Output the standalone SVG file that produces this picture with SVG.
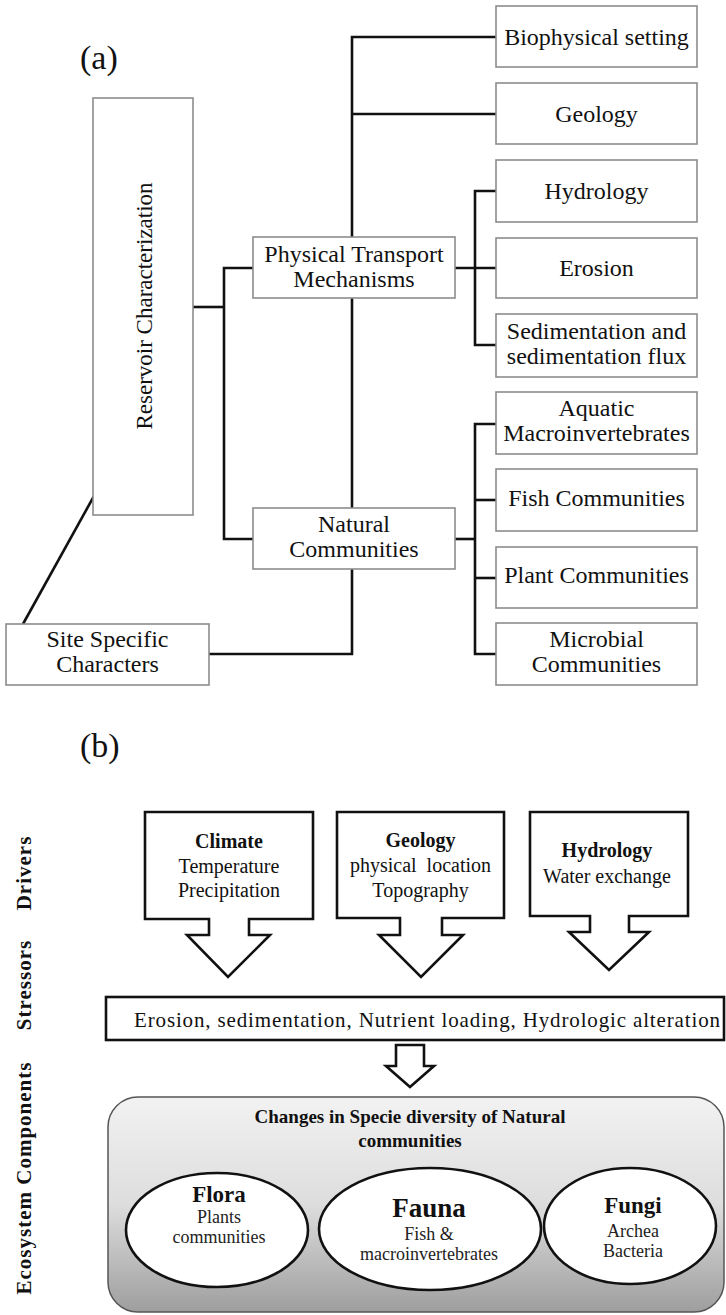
<svg xmlns="http://www.w3.org/2000/svg" width="726" height="1315" viewBox="0 0 726 1315" font-family="'Liberation Serif', 'Times New Roman', serif">
  <defs>
    <linearGradient id="compFill" x1="0" y1="0" x2="0" y2="1">
      <stop offset="0" stop-color="#f2f2f2"/>
      <stop offset="0.5" stop-color="#dddddd"/>
      <stop offset="1" stop-color="#9e9e9e"/>
    </linearGradient>
    <style>
      text { font-family: "Liberation Serif", "Times New Roman", serif; fill: #111; }
      .box { fill: #fff; stroke: #8c8c8c; stroke-width: 1.6; }
      .lbl { font-size: 24px; text-anchor: middle; }
      .lbl2 { font-size: 23px; text-anchor: middle; }
      .panel { font-size: 34px; }
      .wire { fill: none; stroke: #111; stroke-width: 2.6; }
      .arrow { fill: #fff; stroke: #111; stroke-width: 2.6; stroke-linejoin: miter; }
      .drv { font-size: 20px; text-anchor: middle; }
      .drvb { font-size: 20px; font-weight: bold; text-anchor: middle; }
      .row { font-size: 21px; font-weight: bold; text-anchor: middle; letter-spacing: 1px; }
      .oval { fill: #fff; stroke: #111; stroke-width: 2.6; }
      .sub { font-size: 18px; text-anchor: middle; fill: #222; }
      .head { font-weight: bold; text-anchor: middle; }
    </style>
  </defs>

  <!-- ============ (a) characterization tree ============ -->
  <text class="panel" x="80" y="69">(a)</text>

  <g id="connectors-a">
    <!-- reservoir to the two main branches -->
    <polyline class="wire" points="193,307 224,307"/>
    <polyline class="wire" points="253,268 224,268 224,539 253,539"/>
    <!-- central spine -->
    <polyline class="wire" points="496,37 352,37 352,237"/>
    <polyline class="wire" points="352,114 496,114"/>
    <polyline class="wire" points="352,298 352,508"/>
    <polyline class="wire" points="352,569 352,654 209,654"/>
    <!-- physical transport branch -->
    <polyline class="wire" points="455,268 496,268"/>
    <polyline class="wire" points="496,191 475,191 475,345 496,345"/>
    <!-- natural communities branch -->
    <polyline class="wire" points="455,539 475,539"/>
    <polyline class="wire" points="496,424 475,424 475,654 496,654"/>
    <polyline class="wire" points="475,500 496,500"/>
    <polyline class="wire" points="475,578 496,578"/>
    <!-- site specific link -->
    <line class="wire" x1="94" y1="496" x2="23" y2="624"/>
  </g>

  <g id="reservoir">
    <rect class="box" x="93" y="98" width="100" height="417"/>
    <text class="lbl2" transform="translate(152,306) rotate(-90)">Reservoir Characterization</text>
  </g>

  <g id="site-specific">
    <rect class="box" x="6" y="624" width="203" height="61"/>
    <text class="lbl" x="107.5" y="647">Site Specific</text>
    <text class="lbl" x="107.5" y="672">Characters</text>
  </g>

  <g id="physical-transport">
    <rect class="box" x="253" y="237" width="202" height="61"/>
    <text class="lbl" x="354" y="262">Physical Transport</text>
    <text class="lbl" x="354" y="287">Mechanisms</text>
  </g>

  <g id="natural-communities">
    <rect class="box" x="253" y="508" width="202" height="61"/>
    <text class="lbl" x="354" y="532">Natural</text>
    <text class="lbl" x="354" y="557">Communities</text>
  </g>

  <g id="biophysical">
    <rect class="box" x="496" y="6" width="201" height="61"/>
    <text class="lbl" x="596.5" y="45">Biophysical setting</text>
  </g>
  <g id="geology-a">
    <rect class="box" x="496" y="83" width="201" height="61"/>
    <text class="lbl" x="596.5" y="122">Geology</text>
  </g>
  <g id="hydrology-a">
    <rect class="box" x="496" y="160" width="201" height="62"/>
    <text class="lbl" x="596.5" y="199">Hydrology</text>
  </g>
  <g id="erosion">
    <rect class="box" x="496" y="238" width="201" height="60"/>
    <text class="lbl" x="596.5" y="276">Erosion</text>
  </g>
  <g id="sedimentation">
    <rect class="box" x="496" y="314" width="201" height="63"/>
    <text class="lbl" x="596.5" y="339">Sedimentation and</text>
    <text class="lbl" x="596.5" y="364">sedimentation flux</text>
  </g>
  <g id="macroinvertebrates">
    <rect class="box" x="496" y="392" width="201" height="62"/>
    <text class="lbl" x="596.5" y="416">Aquatic</text>
    <text class="lbl" x="596.5" y="441">Macroinvertebrates</text>
  </g>
  <g id="fish">
    <rect class="box" x="496" y="469" width="201" height="62"/>
    <text class="lbl" x="596.5" y="506">Fish Communities</text>
  </g>
  <g id="plant">
    <rect class="box" x="496" y="547" width="201" height="61"/>
    <text class="lbl" x="596.5" y="583">Plant Communities</text>
  </g>
  <g id="microbial">
    <rect class="box" x="496" y="623" width="201" height="62"/>
    <text class="lbl" x="596.5" y="647">Microbial</text>
    <text class="lbl" x="596.5" y="672">Communities</text>
  </g>

  <!-- ============ (b) drivers / stressors / components ============ -->
  <text class="panel" x="80" y="757">(b)</text>

  <g id="row-labels">
    <text class="row" transform="translate(31,873) rotate(-90)">Drivers</text>
    <text class="row" transform="translate(31,985) rotate(-90)">Stressors</text>
    <text class="row" transform="translate(31,1178) rotate(-90)">Ecosystem Components</text>
  </g>

  <g id="climate">
    <polygon class="arrow" points="145,812 313,812 313,919 249,919 249,935 270,935 228,977 187,935 209,935 209,919 145,919"/>
    <text class="drvb" x="229" y="848">Climate</text>
    <text class="drv" x="229" y="873">Temperature</text>
    <text class="drv" x="229" y="897">Precipitation</text>
  </g>

  <g id="geology-b">
    <polygon class="arrow" points="337,812 504,812 504,918 442,918 442,935 463,935 421,977 379,935 400,935 400,918 337,918"/>
    <text class="drvb" x="420.5" y="847">Geology</text>
    <text class="drv" x="420.5" y="872" xml:space="preserve">physical  location</text>
    <text class="drv" x="420.5" y="897">Topography</text>
  </g>

  <g id="hydrology-b">
    <polygon class="arrow" points="530,812 688,812 688,916 629,916 629,932 649,932 609,970 569,932 590,932 590,916 530,916"/>
    <text class="drvb" x="607" y="857">Hydrology</text>
    <text class="drv" x="607" y="883">Water exchange</text>
  </g>

  <g id="stressors">
    <rect x="106" y="997" width="618" height="43" fill="#fff" stroke="#111" stroke-width="2.6"/>
    <text x="134" y="1027" font-size="21" textLength="586" lengthAdjust="spacing">Erosion, sedimentation, Nutrient loading, Hydrologic alteration</text>
  </g>

  <g id="connectors-b">
    <polygon class="arrow" points="396,1045 424,1045 424,1066 434,1066 410,1087 386,1066 396,1066"/>
  </g>

  <g id="components">
    <rect x="108" y="1097" width="616" height="215" rx="30" ry="30" fill="url(#compFill)" stroke="#555" stroke-width="1.5"/>
    <text class="head" x="410" y="1123" font-size="19">Changes in Specie diversity of Natural</text>
    <text class="head" x="410" y="1147" font-size="19">communities</text>
  </g>

  <g id="flora">
    <ellipse class="oval" cx="217" cy="1230" rx="91" ry="57"/>
    <text class="head" x="219" y="1202" font-size="23">Flora</text>
    <text class="sub" x="219" y="1223">Plants</text>
    <text class="sub" x="219" y="1243">communities</text>
  </g>

  <g id="fauna">
    <ellipse class="oval" cx="430" cy="1229" rx="111" ry="61"/>
    <text class="head" x="429" y="1217" font-size="27">Fauna</text>
    <text class="sub" x="429" y="1240">Fish &amp;</text>
    <text class="sub" x="429" y="1260">macroinvertebrates</text>
  </g>

  <g id="fungi">
    <ellipse class="oval" cx="630" cy="1226" rx="86" ry="58"/>
    <text class="head" x="633" y="1213" font-size="23">Fungi</text>
    <text class="sub" x="633" y="1237">Archea</text>
    <text class="sub" x="633" y="1257">Bacteria</text>
  </g>
</svg>
